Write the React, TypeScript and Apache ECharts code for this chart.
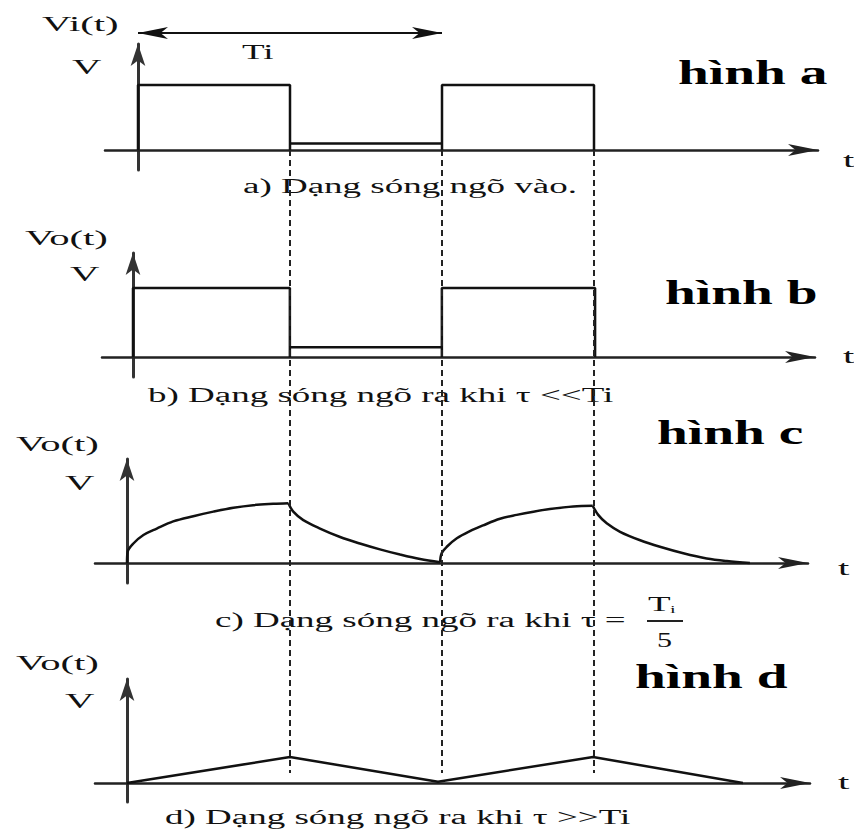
import { useEffect, useRef } from "react";
import * as echarts from "echarts";

// Time axis: the input period Ti spans 10 units. Voltage axis: units of V.
const periodTi = 10;
const edgeTimes = [5, 10, 15];

// a) input square wave
const inputWave = [
  [0, 0], [0, 1], [5, 1], [5, 0], [5, 0.1], [10, 0.1], [10, 0], [10, 1], [15, 1], [15, 0],
];

// b) output when tau << Ti
const outputSmallTau = [
  [0, 0], [0, 1.06], [5.16, 1.06], [5.16, 0], [5.16, 0.15], [10.16, 0.15], [10.16, 0],
  [10.16, 1.06], [15.2, 1.06], [15.2, 0],
];

// c) output when tau = Ti/5 : charge / discharge segments
const chargeFirst = [
  [0, 0], [0.02, 0.17], [0.21, 0.3], [0.54, 0.43], [0.98, 0.53], [1.52, 0.64], [2.18, 0.72],
  [2.84, 0.79], [3.5, 0.85], [4.15, 0.89], [4.81, 0.91], [5.31, 0.92],
];
const dischargeFirst = [
  [5.31, 0.92], [5.47, 0.79], [5.8, 0.66], [6.35, 0.53], [7.01, 0.4], [7.66, 0.3], [8.32, 0.21],
  [8.98, 0.13], [9.64, 0.06], [10.3, 0.01],
];
const chargeSecond = [
  [10.3, 0.01], [10.35, 0.15], [10.52, 0.25], [10.85, 0.38], [11.28, 0.49], [11.72, 0.58],
  [12.27, 0.68], [12.82, 0.74], [13.37, 0.79], [13.91, 0.83], [14.68, 0.87], [15.32, 0.88],
];
const dischargeSecond = [
  [15.32, 0.88], [15.5, 0.74], [15.78, 0.61], [16.22, 0.48], [16.88, 0.35], [17.53, 0.25],
  [18.3, 0.15], [19.07, 0.07], [19.73, 0.03], [20.49, 0],
];

// d) output when tau >> Ti
const triangleWave = [[0, 0], [5.36, 0.4], [10.23, 0.02], [15.33, 0.4], [20.26, 0]];

// ---- layout ----
const PX_PER_T = 30.4;
const PX_PER_V = 65;
const X_ARROW = [9, 30];
const Y_ARROW = [11, 22];
const SERIF = '"Liberation Serif", "DejaVu Serif", serif';
const INK = "#111";

const panels = [
  { originX: 138, zeroY: 150, startX: 105, tipX: 833, tipY: 33, endY: 170 },
  { originX: 133, zeroY: 357, startX: 102, tipX: 830, tipY: 242, endY: 377 },
  { originX: 127, zeroY: 563, startX: 95, tipX: 823, tipY: 448, endY: 583 },
  { originX: 127, zeroY: 783, startX: 95, tipX: 825, tipY: 668, endY: 802 },
];

const GUIDE_TOP = 25;
const GUIDE_BOTTOM = 790;
const GUIDE_END_Y = 773;
const TI_ARROW_Y = 33;

function frame(p: (typeof panels)[number]) {
  const right = p.tipX - X_ARROW[1] / 2;
  const top = p.tipY + Y_ARROW[1] / 2;
  return {
    grid: { left: p.startX, top, width: right - p.startX, height: p.endY - top },
    xMin: (p.startX - p.originX) / PX_PER_T,
    xMax: (right - p.originX) / PX_PER_T,
    yMin: -(p.endY - p.zeroY) / PX_PER_V,
    yMax: (p.zeroY - top) / PX_PER_V,
  };
}

type Txt = { text: string; x: number; y: number; size: number; bold?: boolean; sx?: number };

const labels: Txt[] = [
  { text: "Vi(t)", x: 42, y: 24, size: 22 },
  { text: "V", x: 72, y: 67, size: 22 },
  { text: "Ti", x: 242, y: 52, size: 20 },
  { text: "t", x: 843, y: 160, size: 22 },
  { text: "hình a", x: 678, y: 73, size: 33, bold: true, sx: 1.68 },
  { text: "a) Dạng sóng ngõ vào.", x: 243, y: 186, size: 20 },

  { text: "Vo(t)", x: 25, y: 238, size: 22 },
  { text: "V", x: 70, y: 274, size: 22 },
  { text: "t", x: 843, y: 356, size: 22 },
  { text: "hình b", x: 665, y: 293, size: 33, bold: true, sx: 1.68 },
  { text: "b) Dạng sóng ngõ ra khi τ <<Ti", x: 148, y: 395, size: 20 },

  { text: "Vo(t)", x: 16, y: 444, size: 22 },
  { text: "V", x: 65, y: 483, size: 22 },
  { text: "t", x: 838, y: 568, size: 22 },
  { text: "hình c", x: 657, y: 433, size: 33, bold: true, sx: 1.68 },
  { text: "c) Dạng sóng ngõ ra khi τ =", x: 215, y: 620, size: 20 },
  { text: "T", x: 648, y: 604, size: 20 },
  { text: "i", x: 670, y: 609, size: 11 },
  { text: "5", x: 657, y: 640, size: 20, sx: 1.5 },

  { text: "Vo(t)", x: 16, y: 663, size: 22 },
  { text: "V", x: 65, y: 701, size: 22 },
  { text: "t", x: 838, y: 782, size: 22 },
  { text: "hình d", x: 635, y: 677, size: 33, bold: true, sx: 1.68 },
  { text: "d) Dạng sóng ngõ ra khi τ >>Ti", x: 165, y: 817, size: 20 },
];

export default function App() {
  const ref = useRef<HTMLDivElement>(null);

  useEffect(() => {
    if (!ref.current) return;
    const chart = echarts.init(ref.current, undefined, { renderer: "svg" });
    const frames = panels.map(frame);

    const grids: any[] = frames.map((f) => f.grid);
    const xAxes: any[] = frames.map((f, i) => ({
      type: "value",
      gridIndex: i,
      min: f.xMin,
      max: f.xMax,
      axisLine: {
        show: true,
        onZero: true,
        symbol: ["none", "arrow"],
        symbolSize: X_ARROW,
        lineStyle: { color: "#222", width: 2.5 },
      },
      axisTick: { show: false },
      axisLabel: { show: false },
      splitLine: { show: false },
    }));
    const yAxes: any[] = frames.map((f, i) => ({
      type: "value",
      gridIndex: i,
      min: f.yMin,
      max: f.yMax,
      axisLine: {
        show: true,
        onZero: true,
        symbol: ["none", "arrow"],
        symbolSize: Y_ARROW,
        lineStyle: { color: "#333", width: 3 },
      },
      axisTick: { show: false },
      axisLabel: { show: false },
      splitLine: { show: false },
    }));

    // overlay grid sharing panel a's scales, for the period marker and edge guides
    const a = frames[0];
    const p0 = panels[0];
    grids.push({
      left: a.grid.left,
      width: a.grid.width,
      top: GUIDE_TOP,
      height: GUIDE_BOTTOM - GUIDE_TOP,
    });
    xAxes.push({ type: "value", gridIndex: 4, min: a.xMin, max: a.xMax, show: false });
    yAxes.push({
      type: "value",
      gridIndex: 4,
      min: -(GUIDE_BOTTOM - p0.zeroY) / PX_PER_V,
      max: (p0.zeroY - GUIDE_TOP) / PX_PER_V,
      show: false,
    });
    const vGuideEnd = -(GUIDE_END_Y - p0.zeroY) / PX_PER_V;
    const vTi = (p0.zeroY - TI_ARROW_Y) / PX_PER_V;

    const wave = (data: number[][], idx: number, smooth: number | boolean = false) => ({
      type: "line",
      xAxisIndex: idx,
      yAxisIndex: idx,
      data,
      smooth,
      symbol: "none",
      showSymbol: false,
      clip: false,
      silent: true,
      lineStyle: { color: INK, width: 2.5 },
    });

    const series: any[] = [
      wave(inputWave, 0),
      wave(outputSmallTau, 1),
      wave(chargeFirst, 2, 0.35),
      wave(dischargeFirst, 2, 0.35),
      wave(chargeSecond, 2, 0.35),
      wave(dischargeSecond, 2, 0.35),
      wave(triangleWave, 3),
      {
        type: "line",
        xAxisIndex: 4,
        yAxisIndex: 4,
        data: [],
        silent: true,
        markLine: {
          silent: true,
          symbol: ["none", "none"],
          label: { show: false },
          lineStyle: { color: "#222", width: 2, type: [6, 4] },
          data: edgeTimes.map((t) => [{ coord: [t, 0] }, { coord: [t, vGuideEnd] }]),
        },
      },
      {
        type: "line",
        xAxisIndex: 4,
        yAxisIndex: 4,
        data: [],
        silent: true,
        markLine: {
          silent: true,
          symbol: ["arrow", "arrow"],
          symbolSize: [9, 30],
          label: { show: false },
          lineStyle: { color: INK, width: 2, type: "solid" },
          data: [[{ coord: [0, vTi] }, { coord: [periodTi, vTi] }]],
        },
      },
    ];

    const graphic: any[] = labels.map((l) => ({
      type: "text",
      x: l.x,
      y: l.y,
      scaleX: l.sx ?? 1.85,
      silent: true,
      style: {
        text: l.text,
        fontFamily: SERIF,
        fontSize: l.size,
        fontWeight: l.bold ? "bold" : "normal",
        fill: l.bold ? "#000" : "#111",
        align: "left",
        verticalAlign: "middle",
      },
    }));
    // fraction bar of Ti/5
    graphic.push({
      type: "line",
      silent: true,
      shape: { x1: 647, y1: 621, x2: 683, y2: 621 },
      style: { stroke: "#222", lineWidth: 2 },
    });

    chart.setOption({
      animation: false,
      backgroundColor: "#fff",
      grid: grids,
      xAxis: xAxes,
      yAxis: yAxes,
      series,
      graphic,
    });

    return () => chart.dispose();
  }, []);

  return (
    <div
      ref={ref}
      style={{ position: "absolute", left: 0, top: 0, width: 854, height: 833, background: "#fff" }}
    />
  );
}
